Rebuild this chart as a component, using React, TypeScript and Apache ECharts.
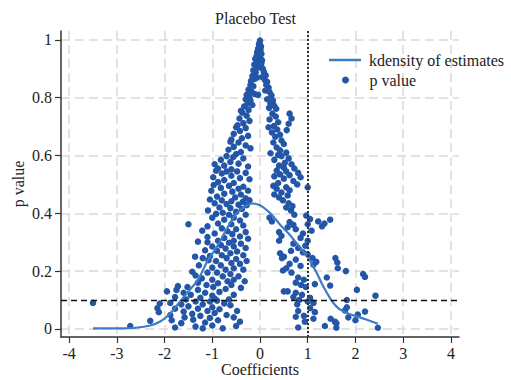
import React, { useEffect, useRef } from "react";
import * as echarts from "echarts";

const chartTitle = "Placebo Test";
const xAxisTitle = "Coefficients";
const yAxisTitle = "p value";
const lineName = "kdensity of estimates";
const pointName = "p value";

const xTicks = [-4, -3, -2, -1, 0, 1, 2, 3, 4];
const yTicks = [0, 0.2, 0.4, 0.6, 0.8, 1];
const xRefLine = 1;
const yRefLine = 0.1;

const kdensityX = [-3.5, -3.2, -2.9, -2.6, -2.3, -2.1, -1.9, -1.7, -1.5, -1.3, -1.1, -0.9, -0.7, -0.5, -0.3, -0.15, 0.0, 0.15, 0.3, 0.45, 0.6, 0.75, 0.9, 1.0, 1.1, 1.2, 1.3, 1.4, 1.5, 1.6, 1.7, 1.9, 2.1, 2.3, 2.47];
const kdensityY = [0.002, 0.002, 0.002, 0.004, 0.012, 0.025, 0.05, 0.09, 0.13, 0.17, 0.235, 0.285, 0.345, 0.398, 0.426, 0.434, 0.428, 0.41, 0.385, 0.355, 0.33, 0.3, 0.27, 0.25, 0.22, 0.19, 0.155, 0.125, 0.098, 0.078, 0.065, 0.05, 0.04, 0.028, 0.018];

// [coefficient, p value]
const pValuePoints: [number, number][] = [
  [0.0, 0.998], [-0.02, 0.985], [0.02, 0.978], [-0.04, 0.97], [0.01, 0.965], [-0.06, 0.958], [0.03, 0.952], [-0.03, 0.96], [-0.01, 0.99], [0.01, 0.975],
  [-0.07, 0.945], [0.0, 0.94], [-0.1, 0.935], [0.04, 0.93], [-0.05, 0.925], [-0.12, 0.915], [0.02, 0.912], [-0.08, 0.905], [0.06, 0.9], [-0.02, 0.905], [-0.04, 0.948], [0.03, 0.92],
  [-0.14, 0.895], [-0.09, 0.888], [0.08, 0.89], [-0.16, 0.875], [0.12, 0.878], [-0.11, 0.865], [0.1, 0.862], [-0.19, 0.858], [0.15, 0.855], [-0.06, 0.87], [-0.13, 0.88], [0.05, 0.872],
  [-0.2, 0.845], [-0.14, 0.84], [0.13, 0.845], [0.18, 0.835], [-0.24, 0.828], [-0.17, 0.82], [0.2, 0.82], [0.11, 0.825], [-0.28, 0.81], [0.24, 0.808], [-0.1, 0.812], [-0.22, 0.802], [-0.04, 0.81],
  [-0.3, 0.795], [-0.2, 0.79], [0.15, 0.795], [0.27, 0.79], [-0.26, 0.78], [0.22, 0.78], [-0.33, 0.77], [0.3, 0.772], [-0.16, 0.775], [0.34, 0.762], [-0.24, 0.758], [0.19, 0.765], [-0.4, 0.755],
  [-0.37, 0.748], [0.26, 0.745], [0.62, 0.745], [-0.28, 0.738], [0.33, 0.735], [0.66, 0.728], [-0.43, 0.728], [0.2, 0.725], [-0.22, 0.72], [0.38, 0.715], [-0.35, 0.712], [0.6, 0.71], [-0.47, 0.705], [0.29, 0.702],
  [-0.5, 0.698], [-0.3, 0.695], [0.18, 0.698], [0.36, 0.69], [-0.42, 0.685], [0.25, 0.68], [-0.55, 0.675], [0.42, 0.672], [-0.25, 0.668], [0.32, 0.665], [-0.38, 0.66], [0.56, 0.688], [-0.6, 0.655], [0.45, 0.652],
  [-0.62, 0.648], [-0.45, 0.645], [0.28, 0.645], [0.5, 0.64], [-0.3, 0.635], [-0.55, 0.63], [0.35, 0.628], [-0.66, 0.62], [0.42, 0.618], [-0.4, 0.612], [-0.2, 0.625], [0.55, 0.61], [-0.5, 0.605], [0.22, 0.608], [0.38, 0.602],
  [-0.7, 0.598], [-0.56, 0.595], [0.45, 0.598], [-0.35, 0.59], [0.6, 0.59], [-0.82, 0.585], [0.3, 0.585], [-0.62, 0.578], [0.52, 0.575], [-0.95, 0.57], [-0.45, 0.572], [0.66, 0.57], [-0.75, 0.565], [0.4, 0.565], [-0.25, 0.562], [-0.88, 0.555], [0.5, 0.558], [-0.6, 0.552], [0.72, 0.555],
  [-0.92, 0.548], [-0.7, 0.545], [-0.48, 0.545], [0.35, 0.548], [0.55, 0.545], [0.8, 0.54], [-0.8, 0.538], [-0.3, 0.54], [0.42, 0.535], [0.62, 0.532], [-0.6, 0.53], [-0.98, 0.525], [0.3, 0.528], [0.85, 0.525], [-0.42, 0.522], [0.5, 0.52], [-0.75, 0.515], [-0.22, 0.518], [0.7, 0.512], [-0.88, 0.508], [-0.55, 0.505], [0.38, 0.505], [0.78, 0.5],
  [-0.97, 0.498], [-0.65, 0.495], [-0.35, 0.492], [0.28, 0.495], [0.55, 0.49], [1.0, 0.49], [-0.82, 0.488], [-0.45, 0.485], [0.35, 0.485], [0.62, 0.48], [-1.02, 0.478], [-0.58, 0.475], [-0.25, 0.478], [0.45, 0.472], [-0.75, 0.468], [-0.4, 0.465], [0.3, 0.465], [0.58, 0.462], [-0.9, 0.458], [-0.52, 0.455], [-0.3, 0.452], [0.4, 0.455],
  [-1.05, 0.448], [-0.8, 0.445], [-0.6, 0.442], [-0.36, 0.44], [-0.22, 0.445], [0.48, 0.445], [-0.95, 0.435], [-0.7, 0.432], [-0.45, 0.43], [-0.28, 0.428], [0.55, 0.42], [-1.09, 0.41], [-0.85, 0.42], [-0.62, 0.418], [-0.38, 0.415], [0.65, 0.41], [-0.5, 0.405], [-0.78, 0.402], [0.72, 0.395], [0.6, 0.435], [0.68, 0.425],
  [-0.92, 0.398], [-0.65, 0.395], [-0.3, 0.395], [0.97, 0.392], [-1.0, 0.385], [-0.55, 0.385], [0.2, 0.385], [1.05, 0.38], [-0.75, 0.378], [-0.42, 0.375], [0.25, 0.372], [0.62, 0.37], [1.22, 0.372], [-1.5, 0.362], [-0.88, 0.365], [-0.6, 0.362], [0.7, 0.36], [1.0, 0.362], [1.35, 0.365], [-0.35, 0.358], [-1.1, 0.355], [0.58, 0.352], [1.47, 0.378], [1.3, 0.355],
  [-0.8, 0.348], [-0.5, 0.345], [-1.21, 0.34], [0.75, 0.345], [-0.68, 0.338], [-0.3, 0.335], [0.4, 0.335], [1.08, 0.34], [-0.95, 0.33], [-0.58, 0.328], [0.45, 0.322], [0.9, 0.33], [-0.42, 0.32], [-1.1, 0.318], [-0.75, 0.315], [0.85, 0.315], [-0.25, 0.312], [-1.3, 0.302], [-0.88, 0.305], [-0.55, 0.305], [1.0, 0.305], [0.4, 0.305], [-1.1, 0.3], [-0.65, 0.298],
  [-0.4, 0.295], [-0.82, 0.29], [0.7, 0.295], [-1.0, 0.285], [-0.55, 0.285], [0.95, 0.288], [-0.3, 0.28], [-0.72, 0.278], [0.8, 0.28], [-1.15, 0.272], [-0.9, 0.27], [0.65, 0.27], [-0.48, 0.268], [-0.62, 0.262], [0.42, 0.262], [0.9, 0.265], [-1.36, 0.25], [-0.8, 0.255], [-0.35, 0.255], [1.0, 0.258], [-1.05, 0.252], [0.5, 0.25],
  [-1.2, 0.245], [-0.7, 0.245], [-0.5, 0.242], [0.46, 0.245], [1.1, 0.245], [1.58, 0.245], [-1.08, 0.238], [-0.92, 0.235], [-0.28, 0.235], [0.75, 0.24], [1.18, 0.232], [1.62, 0.23], [-0.6, 0.228], [-0.42, 0.225], [0.62, 0.225], [-1.28, 0.22], [-0.82, 0.22], [0.85, 0.218], [1.12, 0.222], [-1.0, 0.212], [-0.55, 0.21], [0.55, 0.21], [1.63, 0.21], [-0.72, 0.205], [-0.35, 0.205], [1.8, 0.2], [0.48, 0.202],
  [-1.42, 0.198], [-1.1, 0.195], [-0.9, 0.195], [-0.62, 0.19], [0.66, 0.195], [2.16, 0.19], [2.2, 0.18], [-1.35, 0.185], [-0.78, 0.182], [-0.45, 0.182], [0.8, 0.178], [1.4, 0.178], [-1.22, 0.175], [-1.0, 0.17], [-0.55, 0.17], [0.92, 0.17], [-0.68, 0.165], [-0.32, 0.165], [0.75, 0.16], [-1.3, 0.16], [-0.88, 0.158], [1.15, 0.155], [1.47, 0.15], [-1.12, 0.152], [-0.6, 0.152], [0.86, 0.152],
  [-1.72, 0.148], [-1.52, 0.145], [-0.98, 0.145], [-0.4, 0.142], [0.96, 0.145], [-1.95, 0.13], [-1.75, 0.135], [-1.3, 0.135], [-0.72, 0.138], [2.03, 0.135], [0.5, 0.13], [0.58, 0.13], [-1.6, 0.125], [-1.15, 0.125], [-0.85, 0.128], [0.75, 0.125], [-1.45, 0.118], [-1.0, 0.115], [-0.55, 0.118], [0.88, 0.118], [2.42, 0.115], [-1.78, 0.11], [-1.25, 0.108], [-0.95, 0.105], [0.7, 0.11], [1.05, 0.108], [-1.55, 0.102], [-0.65, 0.102], [0.82, 0.1],
  [-3.5, 0.09], [-2.1, 0.088], [-1.88, 0.09], [-1.35, 0.095], [-1.05, 0.095], [-0.9, 0.098], [1.82, 0.1], [1.0, 0.095], [-1.65, 0.085], [-1.2, 0.085], [-0.75, 0.088], [1.12, 0.09], [-1.5, 0.078], [-1.0, 0.075], [-0.62, 0.082], [0.78, 0.085], [-2.15, 0.072], [-1.78, 0.07], [-1.3, 0.07], [-0.85, 0.068], [1.82, 0.075], [1.05, 0.072], [-2.12, 0.058], [-1.6, 0.06], [-1.1, 0.062], [-0.48, 0.062], [0.8, 0.062], [2.2, 0.06], [-1.42, 0.052], [-0.95, 0.055], [1.78, 0.064], [1.15, 0.058],
  [-1.88, 0.048], [-1.25, 0.045], [-0.7, 0.048], [0.92, 0.045], [2.05, 0.05], [-1.58, 0.04], [-1.05, 0.038], [-0.55, 0.04], [1.85, 0.04], [0.75, 0.042], [-2.3, 0.028], [-1.85, 0.03], [-1.4, 0.032], [-0.88, 0.03], [1.48, 0.035], [2.0, 0.03], [1.12, 0.035], [-1.65, 0.02], [-1.15, 0.022], [-0.42, 0.025], [0.94, 0.025], [1.57, 0.025], [1.6, 0.02], [-1.78, 0.005], [-1.35, 0.008], [-1.0, 0.012], [-0.5, 0.01], [1.36, 0.01], [-2.72, 0.01], [1.6, 0.004], [2.47, 0.004], [-0.78, 0.002], [-1.2, 0.002], [0.8, 0.005]
];

const FONT = "'Liberation Serif', 'Times New Roman', serif";
const TEXT = "#222222";
const LINE_COLOR = "#3b7cc7";
const DOT_COLOR = "#2456a7";

export default function App() {
  const ref = useRef<HTMLDivElement>(null);

  useEffect(() => {
    if (!ref.current) return;
    const chart = echarts.init(ref.current, undefined, { renderer: "svg" });
    const gridLine = { show: true, lineStyle: { color: "#d9d9d9", width: 1.5, type: [9, 5] as number[] } };
    chart.setOption({
      animation: false,
      backgroundColor: "#ffffff",
      textStyle: { fontFamily: FONT, color: TEXT },
      title: {
        text: chartTitle,
        left: "center",
        top: 5,
        textStyle: { fontFamily: FONT, fontSize: 16, fontWeight: "normal", color: TEXT },
      },
      grid: { left: 61, top: 31, width: 398, height: 306, containLabel: false, outerBoundsMode: "none" },
      legend: [
        {
          data: [{ name: lineName, icon: "rect", itemStyle: { color: LINE_COLOR } }],
          left: 324,
          top: 47,
          itemWidth: 32,
          itemHeight: 2.5,
          textStyle: { fontFamily: FONT, fontSize: 16, color: TEXT, padding: [0, 0, 0, 3] },
          selectedMode: false,
        },
        {
          data: [{ name: pointName, icon: "circle", itemStyle: { color: DOT_COLOR } }],
          left: 337,
          top: 67,
          itemWidth: 32,
          itemHeight: 7,
          textStyle: { fontFamily: FONT, fontSize: 16, color: TEXT, padding: [0, 0, 0, 3] },
          selectedMode: false,
        },
      ],
      xAxis: {
        type: "value",
        min: -4.17,
        max: 4.17,
        name: xAxisTitle,
        nameLocation: "middle",
        nameGap: 24,
        nameMoveOverlap: false,
        nameTextStyle: { fontFamily: FONT, fontSize: 16, color: TEXT },
        axisLine: { show: true, onZero: false, lineStyle: { color: "#333333", width: 1.5 } },
        axisTick: { show: true, length: 6, inside: false, customValues: xTicks, lineStyle: { color: "#333333", width: 1.2 } },
        axisLabel: { customValues: xTicks, margin: 8, fontFamily: FONT, fontSize: 16, color: TEXT },
        splitLine: gridLine,
      },
      yAxis: {
        type: "value",
        min: -0.028,
        max: 1.031,
        name: yAxisTitle,
        nameLocation: "middle",
        nameRotate: 90,
        nameGap: 35,
        nameMoveOverlap: false,
        nameTextStyle: { fontFamily: FONT, fontSize: 16, color: TEXT },
        axisLine: { show: true, onZero: false, lineStyle: { color: "#333333", width: 1.5 } },
        axisTick: { show: true, length: 6, inside: false, customValues: yTicks, lineStyle: { color: "#333333", width: 1.2 } },
        axisLabel: {
          customValues: yTicks,
          margin: 9,
          fontFamily: FONT,
          fontSize: 16,
          color: TEXT,
          formatter: (v: number) => (v === 0 || v === 1 ? String(v) : v.toFixed(1)),
        },
        splitLine: gridLine,
      },
      series: [
        {
          name: pointName,
          type: "scatter",
          data: pValuePoints,
          symbol: "circle",
          symbolSize: 6.5,
          itemStyle: { color: DOT_COLOR, opacity: 1 },
          z: 2,
          silent: true,
          markLine: {
            silent: true,
            symbol: ["none", "none"],
            label: { show: false },
            data: [
              { xAxis: xRefLine, lineStyle: { color: "#333333", width: 2, type: [2, 2] } },
              { yAxis: yRefLine, lineStyle: { color: "#111111", width: 1.3, type: [6, 4] } },
            ],
          },
        },
        {
          name: lineName,
          type: "line",
          data: kdensityX.map((x, i) => [x, kdensityY[i]]),
          smooth: 0.35,
          symbol: "none",
          showSymbol: false,
          lineStyle: { color: LINE_COLOR, width: 2.2 },
          itemStyle: { color: LINE_COLOR },
          z: 3,
          silent: true,
        },
      ],
    });
    return () => chart.dispose();
  }, []);

  return (
    <div
      ref={ref}
      style={{ position: "fixed", left: 0, top: 0, width: 511, height: 380, background: "#ffffff" }}
    />
  );
}
